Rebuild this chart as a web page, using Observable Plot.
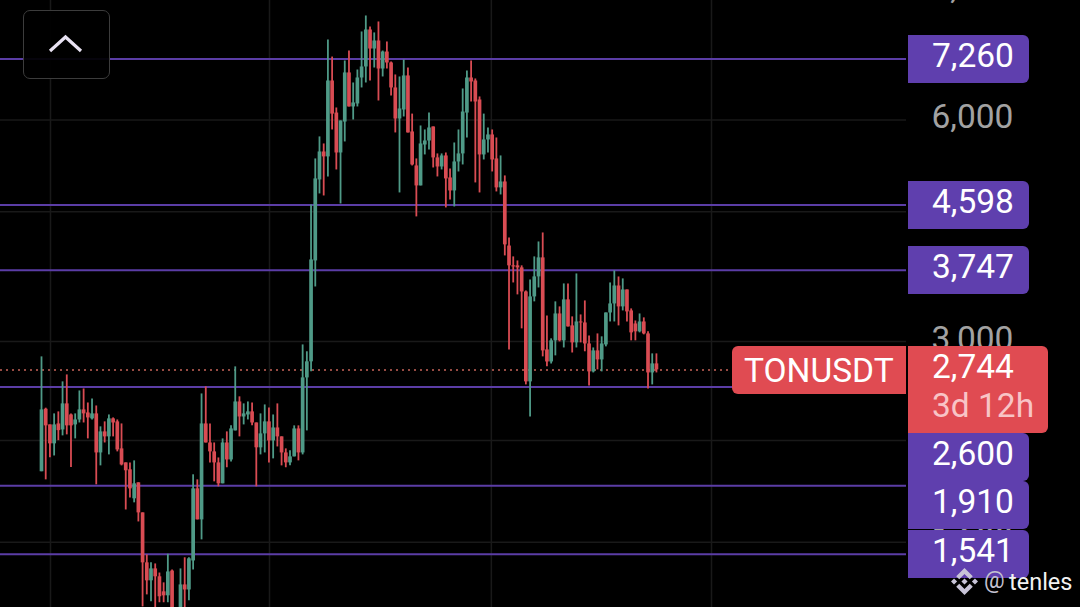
<!DOCTYPE html>
<html><head><meta charset="utf-8">
<script src="https://cdn.jsdelivr.net/npm/d3@7"></script>
<script src="https://cdn.jsdelivr.net/npm/@observablehq/plot@0.6"></script>
<style>
html,body{margin:0;padding:0;background:#000;overflow:hidden}
#chart{position:relative;width:1080px;height:607px;overflow:hidden;font-family:Roboto,sans-serif;background:#000}
#chart svg{display:block}
.tag{position:absolute;box-sizing:border-box;color:#fff;font-size:33.5px;line-height:1;white-space:nowrap}
</style></head><body><div id="chart"></div>
<script>
const openPrices=[1995,2426,2310,2177,2317,2274,2467,2383,2310,2346,2421,2398,2354,2391,2116,2260,2225,2354,2332,2143,2051,2007,1833,1927,1754,1500,1418,1472,1436,1370,1353,1462,1250,1290,1400,1378,1509,1891,1716,2317,2183,2123,2051,1921,2183,2070,2267,2482,2368,2383,2406,2324,2150,2246,2332,2197,2288,2225,2116,2051,2090,2281,2116,2676,2814,3859,4972,5427,5344,6777,6130,5410,5960,6950,6248,6307,6841,7081,7950,7490,7681,7036,7420,7170,6631,6017,6189,6885,5778,5195,4880,5547,5617,5869,5327,5178,5360,5003,4804,5260,5394,6130,6841,6777,6386,5377,5635,5724,5310,4850,4941,4043,3800,3800,3776,3502,2643,3448,3671,3896,2921,2813,3005,3269,3005,3416,3149,2986,3188,3178,2976,2727,2912,2831,2967,3279,3373,3568,3342,3524,3300,3168,3091,3188,3071,2718,2796];
const highPrices=[2858,2434,2310,2391,2406,2643,2701,2391,2391,2569,2585,2474,2506,2451,2296,2332,2383,2361,2346,2317,2051,2051,2064,1927,1754,1538,1500,1495,1453,1409,1541,1467,1300,1472,1524,1524,1976,1945,2545,2602,2317,2183,2083,2211,2260,2303,2770,2522,2467,2482,2474,2324,2391,2459,2436,2383,2467,2225,2143,2130,2303,2303,2967,2904,4598,5310,5689,5565,7705,7304,6228,5980,7215,7443,6735,7014,7901,8306,8025,7877,8152,7443,7657,7192,6906,6863,7237,7058,6110,5310,5887,5814,6130,5869,5394,5394,5410,5146,5582,5814,6610,6992,7215,6820,6447,6110,5850,5814,5670,5360,5035,4147,3908,3859,3800,3513,3636,3908,4095,4212,3249,3024,3395,3342,3591,3591,3239,3705,3259,3405,3052,2939,3071,3043,3279,3602,3740,3670,3648,3524,3321,3198,3269,3229,3091,2885,2885];
const lowPrices=[1995,1945,2085,2096,2199,2232,2239,2021,2211,2324,2324,2211,2346,1915,2032,2183,2103,2225,2123,2032,1770,1838,1810,1705,1307,1357,1328,1300,1324,1324,1324,1250,1230,1270,1300,1332,1467,1716,1612,2183,2051,1933,1903,1921,2020,2057,2267,2225,2310,2346,2303,1903,2103,2116,2051,2077,2156,2032,2020,2032,2090,2064,2103,2267,2727,3557,4759,4729,5019,5814,5130,4612,5600,6248,5998,6248,6631,6735,6777,7058,6366,6863,7036,6468,5760,4774,6055,5760,5195,4429,4880,5377,5461,5162,5019,5130,4555,4670,4569,5098,5211,5670,6346,4926,4774,5293,5410,5098,4789,4744,3920,2921,3602,3470,3120,2618,2368,3395,3546,2858,2770,2795,2867,2995,2939,3139,2893,2939,2986,2904,2610,2718,2744,2727,2949,3188,3188,3149,3300,3188,3005,3005,3081,3062,2585,2618,2718];
const closePrices=[2421,2303,2177,2310,2269,2467,2303,2303,2346,2421,2391,2361,2391,2116,2260,2225,2354,2324,2136,2038,2001,1891,1921,1754,1500,1418,1472,1436,1349,1353,1458,1280,1290,1400,1378,1519,1891,1716,2317,2183,2123,2051,1921,2183,2070,2281,2482,2368,2391,2406,2324,2150,2246,2332,2197,2288,2225,2116,2051,2090,2281,2116,2676,2814,3871,4988,5427,5344,6777,6110,5410,5980,6950,6248,6327,6841,7081,7950,7490,7681,7036,7420,7170,6631,6017,6209,6885,5760,5211,4880,5565,5617,5850,5327,5178,5360,4988,4804,5260,5394,6150,6841,6756,6346,5377,5635,5724,5293,4850,4941,4058,3800,3787,3776,3502,2643,3448,3671,3896,2912,2813,3005,3269,3005,3416,3139,2986,3188,3178,2976,2727,2912,2831,2976,3279,3373,3568,3342,3524,3290,3081,3091,3188,3071,2718,2796,2744];

const gridPrices=[6000,4500,3000,2200,1600];
const gridCandles=[2.14,54.13,106.8,159.07];
const axisLabels=[9000,6000,4500,3000,2200,1600];
const levels=[7260,4598,3747,2600,1910,1541];
const lastPrice=2744;
const symbol="TONUSDT";
const countdown="3d 12h";

const candles=openPrices.map((o,i)=>({i,o,h:highPrices[i],l:lowPrices[i],c:closePrices[i]}));
const GREEN="#4f9a87",RED="#d94c53",PURPLE="#5f3fae",GRID="#191919";
const colorOf=d=>d.c>=d.o?GREEN:RED;

const plot=Plot.plot({
  width:1080,height:607,marginTop:0,marginBottom:0,marginLeft:0,marginRight:174,
  style:{background:"#000",overflow:"hidden"},
  x:{domain:[-9.734,205.37],axis:null},
  y:{type:"log",domain:[1306.5,8732],range:[606.5,-0.5],axis:null},
  marks:[
    Plot.ruleY(gridPrices,{stroke:GRID,strokeWidth:1.5}),
    Plot.ruleX(gridCandles,{stroke:GRID,strokeWidth:1.5}),
    Plot.ruleY(levels,{stroke:"#5b3da6",strokeWidth:2}),
    Plot.ruleY([lastPrice],{stroke:"#c8645a",strokeWidth:1.5,strokeDasharray:"2 4"}),
    Plot.ruleX(candles,{x:"i",y1:"l",y2:"h",stroke:colorOf,strokeWidth:1.8,clip:true}),
    Plot.ruleX(candles,{x:"i",y1:"o",y2:"c",stroke:colorOf,strokeWidth:3.7,clip:true}),
    Plot.text(axisLabels,{y:d=>d,text:d=>d3.format(",")(d),frameAnchor:"right",textAnchor:"start",dx:25,dy:-2.5,
      fill:"#a2a2a2",fontSize:33.5,fontFamily:"Roboto, sans-serif"})
  ]
});
const root=document.getElementById("chart");
root.appendChild(plot);
const yOf=plot.scale("y").apply;

function box(css,html){
  const d=document.createElement("div");
  d.className="tag";d.style.cssText=css;d.innerHTML=html||"";
  root.appendChild(d);return d;
}
const RIGHT=908,TAG_W=121,TAG_H=48;
const priceY=yOf(lastPrice)+0.5;
const priceTop=priceY-24;
const priceBottom=priceTop+87;

let prevBottom=-Infinity,passed=false;
levels.forEach(v=>{
  if(!passed&&v<lastPrice){prevBottom=Math.max(prevBottom,priceBottom);passed=true;}
  const top=Math.max(yOf(v)+0.5-24,prevBottom);
  prevBottom=top+TAG_H+(passed?0.5:0);
  box(`left:${RIGHT}px;top:${top}px;width:${TAG_W}px;height:${TAG_H}px;background:${PURPLE};border-radius:0 6px 6px 0`,
      `<span style="position:absolute;left:24px;top:4px">${d3.format(",")(v)}</span>`);
});
// last price tags
box(`left:732px;top:${priceTop}px;width:174px;height:48px;background:#e04b52;border-radius:6px 0 0 6px;`,
    `<span style="position:absolute;left:12px;top:8px">${symbol}</span>`);
box(`left:${RIGHT}px;top:${priceTop}px;width:140px;height:87px;background:#e04b52;border-radius:0 6px 6px 0`,
    `<span style="position:absolute;left:24px;top:4px">${d3.format(",")(lastPrice)}</span>
     <span style="position:absolute;left:24px;top:43px;color:#f8c4c6">${countdown}</span>`);
// collapse button
box(`left:23px;top:10px;width:87px;height:69px;border:1.5px solid #3c3c3c;border-radius:7px;background:rgba(0,0,0,.93)`,
    `<svg width="87" height="69" style="position:absolute;left:-1.5px;top:-1.5px"><polyline points="27,41 42.5,27 58,41" fill="none" stroke="#e8e2f2" stroke-width="3.2"/></svg>`);
// watermark
box(`left:951px;top:568px;width:28px;height:27px`,
    `<svg viewBox="0 0 126.61 126.61" width="27" height="27"><path fill="#c8c4d8" d="M38.73 53.2l24.59-24.58 24.6 24.6 14.3-14.31L63.32 0 24.42 38.9zM0 63.31l14.3-14.31 14.31 14.31-14.31 14.3zM38.73 73.41l24.59 24.59 24.6-24.6 14.31 14.29-38.9 38.91-38.91-38.88zM98 63.31l14.3-14.31 14.31 14.3-14.31 14.32zM77.83 63.3L63.32 48.78 52.59 59.51l-1.24 1.23-2.54 2.54 14.51 14.5 14.51-14.47z"/></svg>`);
box(`left:984px;top:569px;font-size:23px;color:#c4c2d0`,"@");
box(`left:1009px;top:570.5px;font-size:23.5px;color:#f2f2f2`,"tenles");
</script></body></html>
